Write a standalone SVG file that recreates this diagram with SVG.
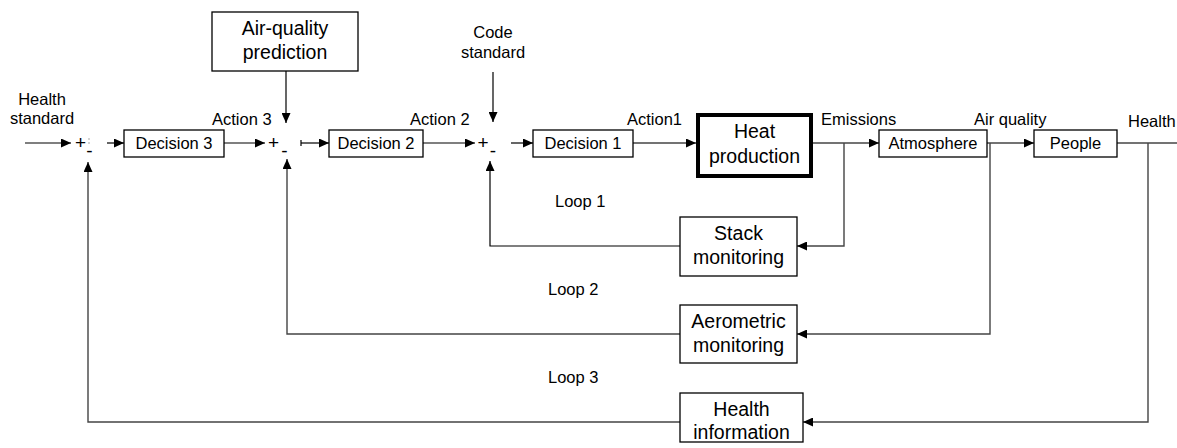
<svg xmlns="http://www.w3.org/2000/svg" width="1177" height="448" viewBox="0 0 1177 448">
  <defs>
    <marker id="arrow" markerUnits="userSpaceOnUse" markerWidth="11" markerHeight="9" refX="10" refY="4.5" orient="auto">
      <path d="M0,0 L10,4.5 L0,9 z" fill="#000"/>
    </marker>
  </defs>
  <style>
    .box { fill: #fff; stroke: #000; stroke-width: 1.3; }
    .heavy { fill: #fff; stroke: #000; stroke-width: 4; }
    .label { font-family: "Liberation Sans", Arial, sans-serif; font-size: 16.5px; fill: #000; }
    .sign { font-family: "Liberation Sans", Arial, sans-serif; font-size: 19px; fill: #000; text-anchor: middle; }
    .big { font-family: "Liberation Sans", Arial, sans-serif; font-size: 19.5px; fill: #000; text-anchor: middle; }
    .mid { text-anchor: middle; }
    .wire { fill: none; stroke: #000; stroke-width: 1.2; }
    .wire2 { fill: none; stroke: #444; stroke-width: 1.4; }
  </style>

  <rect width="1177" height="448" fill="#fff"/>

  <!-- connectors -->
  <g id="connectors">
    <path class="wire" d="M25,143 H71" marker-end="url(#arrow)"/>
    <path class="wire" d="M107,143 H124" marker-end="url(#arrow)"/>
    <path class="wire" d="M224,143 H265" marker-end="url(#arrow)"/>
    <path class="wire" d="M286,71 V123" marker-end="url(#arrow)"/>
    <path class="wire" d="M301,143 H329" marker-end="url(#arrow)"/>
    <path class="wire" d="M301,140 V146"/>
    <path class="wire" d="M423,143 H475" marker-end="url(#arrow)"/>
    <path class="wire" d="M493,72 V122" marker-end="url(#arrow)"/>
    <path class="wire" d="M511,143 H533" marker-end="url(#arrow)"/>
    <path class="wire2" d="M633,143 H696" marker-end="url(#arrow)"/>
    <path class="wire2" d="M813,143 H879" marker-end="url(#arrow)"/>
    <path class="wire2" d="M987,143 H1034" marker-end="url(#arrow)"/>
    <path class="wire2" d="M1117,143 H1177"/>
    <!-- loop 1 -->
    <path class="wire2" d="M844,143 V246 H797" marker-end="url(#arrow)"/>
    <path class="wire" d="M680,246 H490 V161" marker-end="url(#arrow)"/>
    <!-- loop 2 -->
    <path class="wire2" d="M990,143 V334 H797" marker-end="url(#arrow)"/>
    <path class="wire2" d="M680,334 H287 V159" marker-end="url(#arrow)"/>
    <!-- loop 3 -->
    <path class="wire2" d="M1148,143 V422 H803" marker-end="url(#arrow)"/>
    <path class="wire2" d="M680,422 H88 V162" marker-end="url(#arrow)"/>
  </g>

  <!-- summing junctions -->
  <g id="sum3">
    <text class="sign" x="80.5" y="149">+</text>
    <rect x="88.5" y="138.5" width="1" height="1" fill="#555"/>
    <rect x="88.5" y="142.5" width="1" height="1" fill="#555"/>
    <text class="sign" x="89.5" y="157">-</text>
  </g>
  <g id="sum2">
    <text class="sign" x="273.5" y="149">+</text>
    <text class="sign" x="284.5" y="157">-</text>
  </g>
  <g id="sum1">
    <text class="sign" x="483" y="149">+</text>
    <text class="sign" x="493" y="157">-</text>
  </g>

  <!-- inputs -->
  <g id="health-standard">
    <text class="label mid" x="42" y="105">Health</text>
    <text class="label mid" x="42" y="124">standard</text>
  </g>
  <g id="code-standard">
    <text class="label mid" x="493" y="38">Code</text>
    <text class="label mid" x="493" y="58">standard</text>
  </g>

  <!-- signal labels -->
  <g id="signal-labels">
    <text class="label" x="212" y="125">Action 3</text>
    <text class="label" x="410" y="125">Action 2</text>
    <text class="label" x="627" y="125">Action1</text>
    <text class="label" x="821" y="125">Emissions</text>
    <text class="label" x="974" y="125">Air quality</text>
    <text class="label" x="1128" y="127">Health</text>
    <text class="label" x="555" y="207">Loop 1</text>
    <text class="label" x="548" y="295">Loop 2</text>
    <text class="label" x="548" y="383">Loop 3</text>
  </g>

  <!-- blocks -->
  <g id="air-quality-prediction">
    <rect class="box" x="212" y="12" width="146" height="59"/>
    <text class="big" x="285" y="35">Air-quality</text>
    <text class="big" x="285" y="59">prediction</text>
  </g>
  <g id="decision3">
    <rect class="box" x="124" y="130" width="100" height="27"/>
    <text class="label mid" x="174" y="149">Decision 3</text>
  </g>
  <g id="decision2">
    <rect class="box" x="329" y="130" width="94" height="27"/>
    <text class="label mid" x="376" y="149">Decision 2</text>
  </g>
  <g id="decision1">
    <rect class="box" x="533" y="130" width="100" height="27"/>
    <text class="label mid" x="583" y="149">Decision 1</text>
  </g>
  <g id="heat-production">
    <rect class="heavy" x="698" y="115" width="113" height="61"/>
    <text class="big" x="754.5" y="138">Heat</text>
    <text class="big" x="754.5" y="163">production</text>
  </g>
  <g id="atmosphere">
    <rect class="box" x="879" y="130" width="108" height="27"/>
    <text class="label mid" x="933" y="149">Atmosphere</text>
  </g>
  <g id="people">
    <rect class="box" x="1034" y="130" width="83" height="27"/>
    <text class="label mid" x="1075.5" y="149">People</text>
  </g>
  <g id="stack-monitoring">
    <rect class="box" x="680" y="217" width="117" height="59"/>
    <text class="big" x="738.5" y="240">Stack</text>
    <text class="big" x="738.5" y="264">monitoring</text>
  </g>
  <g id="aerometric-monitoring">
    <rect class="box" x="680" y="305" width="117" height="58"/>
    <text class="big" x="738.5" y="328">Aerometric</text>
    <text class="big" x="738.5" y="352">monitoring</text>
  </g>
  <g id="health-information">
    <rect class="box" x="680" y="393" width="123" height="49"/>
    <text class="big" x="741.5" y="416">Health</text>
    <text class="big" x="741.5" y="439">information</text>
  </g>
</svg>
